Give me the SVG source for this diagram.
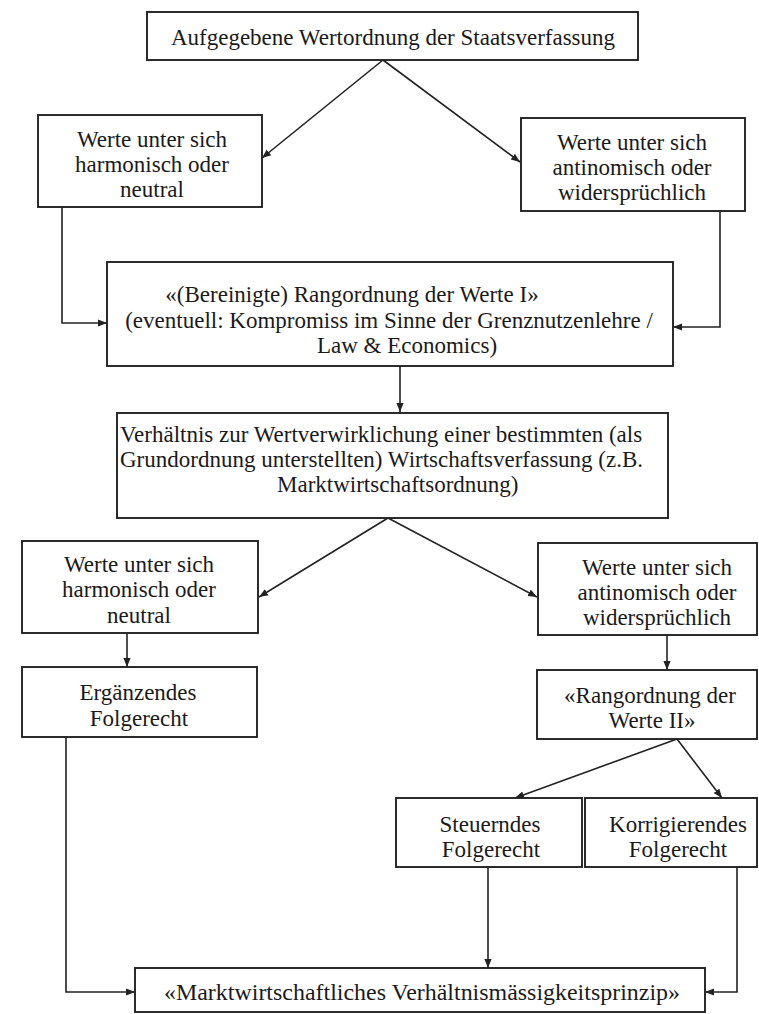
<svg xmlns="http://www.w3.org/2000/svg" width="759" height="1014" viewBox="0 0 759 1014">
<style>
.box{fill:#fff;stroke:#222;stroke-width:1.9}
.t{font-family:"Liberation Serif","Times New Roman",serif;font-size:23px;fill:#1a1a1a;text-anchor:middle}
.s{text-anchor:start}
.c{fill:none;stroke:#222;stroke-width:1.6}
</style>
<defs>
<marker id="ah" viewBox="0 0 10 10" refX="10" refY="5" markerWidth="9" markerHeight="9" markerUnits="userSpaceOnUse" orient="auto">
<path d="M0,1 L10,5 L0,9 Z" fill="#222"/>
</marker>
</defs>
<rect width="759" height="1014" fill="#fff"/>
<g id="connectors">
<path class="c" d="M383,60 L262,158" marker-end="url(#ah)"/>
<path class="c" d="M383,60 L520,162" marker-end="url(#ah)"/>
<path class="c" d="M62,207 L62,323 L107,323" marker-end="url(#ah)"/>
<path class="c" d="M720,211 L720,327 L673,327" marker-end="url(#ah)"/>
<path class="c" d="M400,366 L400,412" marker-end="url(#ah)"/>
<path class="c" d="M388,518 L259,597" marker-end="url(#ah)"/>
<path class="c" d="M388,518 L537,597" marker-end="url(#ah)"/>
<path class="c" d="M127,633 L127,667" marker-end="url(#ah)"/>
<path class="c" d="M667,635 L667,670" marker-end="url(#ah)"/>
<path class="c" d="M677,739 L515,798" marker-end="url(#ah)"/>
<path class="c" d="M677,739 L722,798" marker-end="url(#ah)"/>
<path class="c" d="M66,737 L66,992 L135,992" marker-end="url(#ah)"/>
<path class="c" d="M488,867 L488,968" marker-end="url(#ah)"/>
<path class="c" d="M737,867 L737,992 L705,992" marker-end="url(#ah)"/>
</g>
<g id="n1"><rect class="box" x="147" y="12" width="491" height="48"/>
<text class="t" x="393" y="45">Aufgegebene Wertordnung der Staatsverfassung</text></g>
<g id="n2"><rect class="box" x="38" y="115" width="224" height="92"/>
<text class="t" x="152" y="147">Werte unter sich</text>
<text class="t" x="152" y="172">harmonisch oder</text>
<text class="t" x="152" y="197">neutral</text></g>
<g id="n3"><rect class="box" x="521" y="118" width="224" height="93"/>
<text class="t" x="632" y="150">Werte unter sich</text>
<text class="t" x="632" y="175">antinomisch oder</text>
<text class="t" x="632" y="200">widersprüchlich</text></g>
<g id="n4"><rect class="box" x="107" y="262" width="566" height="104"/>
<text class="t" x="352" y="302">«(Bereinigte) Rangordnung der Werte I»</text>
<text class="t" x="389" y="328">(eventuell: Kompromiss im Sinne der Grenznutzenlehre /</text>
<text class="t" x="407" y="353">Law &amp; Economics)</text></g>
<g id="n5"><rect class="box" x="117" y="413" width="551" height="105"/>
<text class="t s" x="120" y="442">Verhältnis zur Wertverwirklichung einer bestimmten (als</text>
<text class="t s" x="120" y="467">Grundordnung unterstellten) Wirtschaftsverfassung (z.B.</text>
<text class="t s" x="277" y="492">Marktwirtschaftsordnung)</text></g>
<g id="n6"><rect class="box" x="22" y="541" width="236" height="92"/>
<text class="t" x="139" y="572">Werte unter sich</text>
<text class="t" x="139" y="597">harmonisch oder</text>
<text class="t" x="139" y="623">neutral</text></g>
<g id="n7"><rect class="box" x="538" y="543" width="219" height="92"/>
<text class="t" x="657" y="575">Werte unter sich</text>
<text class="t" x="657" y="600">antinomisch oder</text>
<text class="t" x="657" y="625">widersprüchlich</text></g>
<g id="n8"><rect class="box" x="22" y="667" width="235" height="70"/>
<text class="t" x="138" y="700">Ergänzendes</text>
<text class="t" x="139" y="726">Folgerecht</text></g>
<g id="n9"><rect class="box" x="537" y="670" width="220" height="69"/>
<text class="t" x="650" y="703">«Rangordnung der</text>
<text class="t" x="652" y="728">Werte II»</text></g>
<g id="n10"><rect class="box" x="396" y="798" width="186" height="69"/>
<text class="t" x="490" y="832">Steuerndes</text>
<text class="t" x="491" y="857">Folgerecht</text></g>
<g id="n11"><rect class="box" x="585" y="798" width="172" height="69"/>
<text class="t" x="678" y="832">Korrigierendes</text>
<text class="t" x="678" y="857">Folgerecht</text></g>
<g id="n12"><rect class="box" x="135" y="968" width="570" height="44"/>
<text class="t" x="422" y="1000" textLength="516" lengthAdjust="spacingAndGlyphs">«Marktwirtschaftliches Verhältnismässigkeitsprinzip»</text></g>
</svg>
